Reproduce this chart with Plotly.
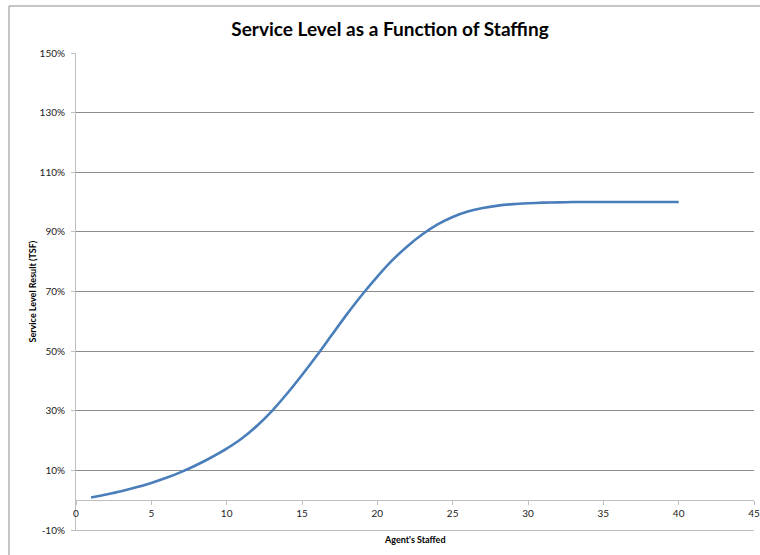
import plotly.graph_objects as go

agents = list(range(1, 41))
service_level = [0.9, 1.9, 3.0, 4.3, 5.8, 7.5, 9.5, 11.8, 14.4, 17.3,
                 20.7, 24.9, 29.9, 35.7, 42.0, 48.6, 55.6, 62.5, 69.0, 75.0,
                 80.5, 85.2, 89.2, 92.5, 95.0, 96.8, 98.0, 98.8, 99.3, 99.6,
                 99.8, 99.9, 100.0, 100.0, 100.0, 100.0, 100.0, 100.0, 100.0, 100.0]
y_ticks = [-10, 10, 30, 50, 70, 90, 110, 130, 150]
x_ticks = [0, 5, 10, 15, 20, 25, 30, 35, 40, 45]

title_text = "Service Level as a Function of Staffing"
x_title = "Agent's Staffed"
y_title = "Service Level Result (TSF)"

FONT = "Lato"
GRID = "#8c8c8c"
AXIS = "#bfbfbf"
TICKC = "#222222"

fig = go.Figure()
fig.add_trace(go.Scatter(
    x=agents, y=[v / 100 for v in service_level],
    mode="lines", line=dict(color="#4a7ebb", width=2.6, shape="spline", smoothing=0.8),
    showlegend=False, hoverinfo="skip"))

# helper axis to draw the bottom frame line at -10%
fig.add_trace(go.Scatter(x=[0, 45], y=[-0.1, -0.1], xaxis="x2", mode="lines",
                         line=dict(width=0), showlegend=False, hoverinfo="skip"))

fig.update_layout(
    width=760, height=555,
    margin=dict(l=76, r=6, t=53, b=25, autoexpand=False),
    paper_bgcolor="white", plot_bgcolor="white",
    font=dict(family=FONT, color=TICKC, size=10),
    title=dict(text="<b>" + title_text + "</b>", x=390 / 760, xanchor="center",
               y=1 - 29 / 555, yanchor="middle",
               font=dict(family=FONT, size=19, color="#000000")),
    xaxis=dict(range=[0, 45], tickvals=x_ticks, ticktext=[str(v) for v in x_ticks],
               showgrid=False, zeroline=False, showline=True, linecolor=AXIS, linewidth=1,
               ticks="outside", ticklen=4, tickcolor=AXIS, automargin=False,
               anchor="free", position=10 / 160,
               tickfont=dict(family=FONT, size=10, color=TICKC)),
    xaxis2=dict(range=[0, 45], overlaying="x", anchor="y", side="bottom",
                showgrid=False, zeroline=False, showline=True, linecolor=AXIS,
                linewidth=1, showticklabels=False, ticks="", automargin=False),
    yaxis=dict(range=[-0.1, 1.5], tickvals=[v / 100 for v in y_ticks],
               ticktext=[f"{v}%" for v in y_ticks], automargin=False,
               showgrid=True, gridcolor=GRID, gridwidth=1, zeroline=False,
               showline=True, linecolor=AXIS, linewidth=1,
               ticks="outside", ticklen=4, tickcolor=AXIS, ticklabelstandoff=4,
               tickfont=dict(family=FONT, size=10, color=TICKC)),
    annotations=[
        dict(text="<b>" + x_title + "</b>", xref="paper", yref="paper",
             x=0.5, y=-(539 - 530) / 477, xanchor="center", yanchor="middle",
             showarrow=False, font=dict(family=FONT, size=9, color="#000000")),
        dict(text="<b>" + y_title + "</b>", xref="paper", yref="paper",
             x=(32 - 76) / 678, y=0.5, xanchor="center", yanchor="middle",
             textangle=-90, showarrow=False,
             font=dict(family=FONT, size=9, color="#000000")),
    ],
    shapes=[
        dict(type="rect", xref="paper", yref="paper",
             x0=(9 - 76) / 678, x1=1.2, y0=-0.2, y1=1 + (53 - 6) / 477,
             line=dict(color="#8c8c8c", width=1), layer="below"),
    ],
)

fig.write_html("out.html", config={"displayModeBar": False},
               post_script="document.body.style.margin='0';document.body.style.overflow='hidden';")
